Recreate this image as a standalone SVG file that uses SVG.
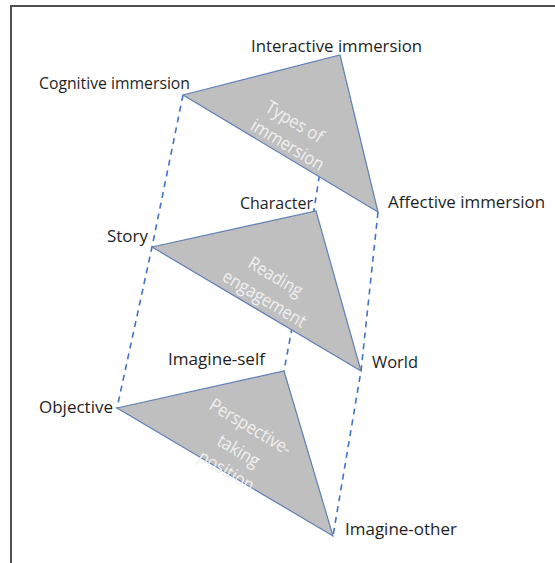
<svg xmlns="http://www.w3.org/2000/svg" width="555" height="563" viewBox="0 0 555 563">
  <style>
    .lbl { font-family: "Open Sans", "Noto Sans", sans-serif; font-size: 16.5px; fill: #1e1e1e; }
    .inner { font-family: "Open Sans", "Noto Sans", sans-serif; font-size: 18px; fill: #f0f0f0; text-anchor: middle; dominant-baseline: central; }
    .tri { fill: #bfbfbf; stroke: #5f7fb5; stroke-width: 1.2; stroke-linejoin: miter; }
    .dash { fill: none; stroke: #4472c4; stroke-width: 1.6; stroke-dasharray: 6 5; }
  </style>
  <rect x="0" y="0" width="555" height="563" fill="#ffffff"/>
  <rect x="11" y="6" width="600" height="600" fill="none" stroke="#505050" stroke-width="2"/>

  <g id="connectors">
    <polyline class="dash" points="183,95 152,247 117,408"/>
    <polyline class="dash" points="338,56 314,210 284,371"/>
    <polyline class="dash" points="378,212 361,371 333,536"/>
  </g>

  <g id="types-of-immersion">
    <polygon class="tri" points="183,95 340,55 378,212"/>
    <text class="inner" transform="translate(295,121) rotate(31)" textLength="64" lengthAdjust="spacingAndGlyphs">Types of</text>
    <text class="inner" transform="translate(288,144) rotate(31)" textLength="82" lengthAdjust="spacingAndGlyphs">immersion</text>
  </g>

  <g id="reading-engagement">
    <polygon class="tri" points="152,247 316,211 361,371"/>
    <text class="inner" transform="translate(276,276) rotate(31)" textLength="60" lengthAdjust="spacingAndGlyphs">Reading</text>
    <text class="inner" transform="translate(265,298) rotate(31)" textLength="94" lengthAdjust="spacingAndGlyphs">engagement</text>
  </g>

  <g id="perspective-taking-position">
    <polygon class="tri" points="117,408 284,371 333,536"/>
    <text class="inner" transform="translate(251,426) rotate(31)" textLength="92" lengthAdjust="spacingAndGlyphs">Perspective-</text>
    <text class="inner" transform="translate(239,450) rotate(31)" textLength="46" lengthAdjust="spacingAndGlyphs">taking</text>
    <text class="inner" transform="translate(227,470) rotate(31)" textLength="62" lengthAdjust="spacingAndGlyphs">position</text>
  </g>

  <g id="label-interactive"><text class="lbl" x="251" y="52" textLength="171" lengthAdjust="spacingAndGlyphs">Interactive immersion</text></g>
  <g id="label-cognitive"><text class="lbl" x="39" y="89" textLength="151" lengthAdjust="spacingAndGlyphs">Cognitive immersion</text></g>
  <g id="label-affective"><text class="lbl" x="388" y="208" textLength="157" lengthAdjust="spacingAndGlyphs">Affective immersion</text></g>
  <g id="label-character"><text class="lbl" x="240" y="209" textLength="73" lengthAdjust="spacingAndGlyphs">Character</text></g>
  <g id="label-story"><text class="lbl" x="107" y="242" textLength="41" lengthAdjust="spacingAndGlyphs">Story</text></g>
  <g id="label-imagine-self"><text class="lbl" x="168" y="365" textLength="97" lengthAdjust="spacingAndGlyphs">Imagine-self</text></g>
  <g id="label-world"><text class="lbl" x="372" y="368" textLength="46" lengthAdjust="spacingAndGlyphs">World</text></g>
  <g id="label-objective"><text class="lbl" x="39" y="413" textLength="74" lengthAdjust="spacingAndGlyphs">Objective</text></g>
  <g id="label-imagine-other"><text class="lbl" x="345" y="535" textLength="112" lengthAdjust="spacingAndGlyphs">Imagine-other</text></g>
</svg>
